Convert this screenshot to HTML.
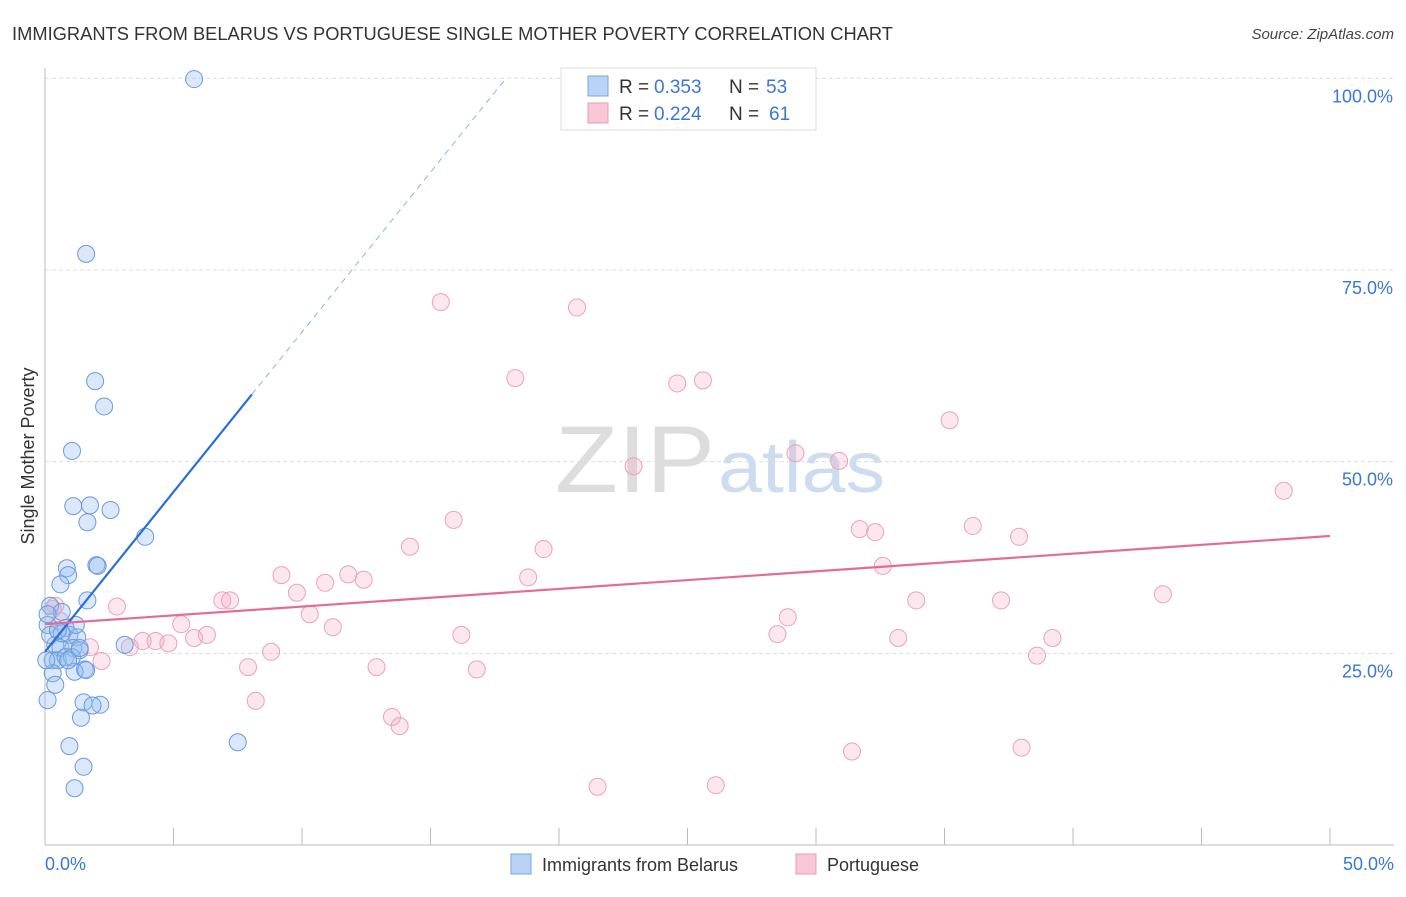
<!DOCTYPE html>
<html><head><meta charset="utf-8"><style>
body{margin:0;background:#fff;font-family:"Liberation Sans",sans-serif;}
svg text{font-family:"Liberation Sans",sans-serif;}
</style></head><body>
<svg id="chart" width="1406" height="892" xmlns="http://www.w3.org/2000/svg">
<text x="12" y="40" font-size="18" fill="#333" textLength="881" lengthAdjust="spacingAndGlyphs">IMMIGRANTS FROM BELARUS VS PORTUGUESE SINGLE MOTHER POVERTY CORRELATION CHART</text>
<text x="1394" y="39" font-size="15" fill="#444" font-style="italic" text-anchor="end">Source: ZipAtlas.com</text>
<text x="555" y="492" font-size="95" fill="#ddd" textLength="160" lengthAdjust="spacingAndGlyphs" font-family="Liberation Serif">ZIP</text>
<text x="718" y="492" font-size="72" fill="#cddcf0" textLength="167" lengthAdjust="spacingAndGlyphs">atlas</text>
<g id="grid"></g>
<line x1="45" y1="68" x2="45" y2="845" stroke="#bbb"/>
<line x1="45" y1="845" x2="1394" y2="845" stroke="#bbb"/>
<text x="34" y="456" font-size="18" fill="#333" text-anchor="middle" transform="rotate(-90 34 456)">Single Mother Poverty</text>
<text x="45" y="870" font-size="18" fill="#3a78d4">0.0%</text>
<text x="1394" y="870" font-size="18" fill="#3a78d4" text-anchor="end">50.0%</text>
<g id="pts"></g>
<g id="lines"></g>
<g>
<rect x="561" y="68" width="255" height="62" fill="#fff" stroke="#ddd"/>
<rect x="588" y="76" width="20" height="20" fill="#b8d3f5" stroke="#7aa6e0"/>
<rect x="588" y="103" width="20" height="20" fill="#f8c6d6" stroke="#e89ab4"/>
<text x="619" y="93" font-size="19" fill="#333">R =</text>
<text x="654" y="93" font-size="19" fill="#3a78d4">0.353</text>
<text x="729" y="93" font-size="19" fill="#333">N =</text>
<text x="766" y="93" font-size="19" fill="#3a78d4">53</text>
<text x="619" y="120" font-size="19" fill="#333">R =</text>
<text x="654" y="120" font-size="19" fill="#3a78d4">0.224</text>
<text x="729" y="120" font-size="19" fill="#333">N =</text>
<text x="769" y="120" font-size="19" fill="#3a78d4">61</text>
</g>
<g>
<rect x="511" y="854" width="20" height="20" fill="#b8d3f5" stroke="#7aa6e0"/>
<text x="542" y="871" font-size="18" fill="#333">Immigrants from Belarus</text>
<rect x="796" y="854" width="20" height="20" fill="#f8c6d6" stroke="#e89ab4"/>
<text x="827" y="871" font-size="18" fill="#333">Portuguese</text>
</g>
</svg>
<script>
const yTicks=[25,50,75,100];
const xTicks=[5,10,15,20,25,30,35,40,45,50];
const blueX=[5.8,1.6,1.95,2.3,1.05,1.1,1.75,1.65,2.55,3.9,0.85,0.9,2.0,2.05,0.6,1.65,0.2,0.65,0.1,0.8,0.95,1.25,0.4,0.6,1.1,1.35,0.3,0.5,0.8,1.05,3.1,1.55,1.15,0.3,0.4,1.6,2.15,1.5,1.85,1.4,0.95,1.5,1.15,7.5,0.1,0.2,0.65,0.9,0.05,0.1,0.5,1.2,1.35];
const blueY=[99.9,77.1,60.5,57.2,51.4,44.2,44.3,42.1,43.7,40.2,36.1,35.2,36.5,36.4,34.0,31.9,31.2,30.4,28.7,28.3,27.4,27.1,26.1,25.7,25.7,25.4,24.1,24.1,24.5,24.5,26.1,22.9,22.6,22.4,20.9,22.8,18.3,18.6,18.2,16.6,12.9,10.2,7.4,13.4,30.1,27.4,27.6,24.1,24.1,18.9,28.0,28.7,25.7];
const pinkX=[15.4,20.7,18.3,24.6,25.6,35.2,22.9,29.2,30.9,48.2,15.9,14.2,19.4,31.7,32.3,36.1,37.9,32.6,9.2,10.9,11.8,12.4,18.8,9.8,6.9,7.2,33.9,37.2,43.5,2.8,10.3,28.9,5.3,6.3,11.2,16.2,28.5,5.8,3.8,4.3,4.8,1.75,3.3,33.2,39.2,8.8,2.2,7.9,12.9,16.8,38.6,8.2,13.5,13.8,31.4,38.0,21.5,26.1,0.3,0.6,0.4];
const pinkY=[70.8,70.1,60.9,60.2,60.6,55.4,49.4,51.1,50.1,46.2,42.4,38.9,38.6,41.2,40.8,41.6,40.2,36.4,35.2,34.2,35.3,34.6,34.9,32.9,31.9,31.9,31.9,31.9,32.7,31.1,30.1,29.7,28.8,27.4,28.4,27.4,27.5,27.0,26.6,26.6,26.3,25.8,25.8,27.0,27.0,25.2,24.0,23.2,23.2,22.9,24.7,18.8,16.7,15.5,12.2,12.7,7.6,7.8,30.8,29.2,31.2];
const X=v=>45+v/50*1285, Y=v=>845-v/100*766.7;
const NS="http://www.w3.org/2000/svg";
const g=document.getElementById('grid');
yTicks.forEach(t=>{
 const l=document.createElementNS(NS,'line');l.setAttribute('x1',45);l.setAttribute('x2',1394);l.setAttribute('y1',Y(t));l.setAttribute('y2',Y(t));l.setAttribute('stroke','#ddd');l.setAttribute('stroke-dasharray','4,3');
 
 
 g.appendChild(l);
 const tx=document.createElementNS(NS,'text');tx.setAttribute('x',1393);tx.setAttribute('y',Y(t)+24);tx.setAttribute('font-size','18');tx.setAttribute('fill','#3a78d4');tx.setAttribute('text-anchor','end');tx.textContent=t.toFixed(1)+'%';
 
 
 g.appendChild(tx);
});
xTicks.forEach(t=>{
 const l=document.createElementNS(NS,'line');l.setAttribute('x1',X(t));l.setAttribute('x2',X(t));l.setAttribute('y1',828);l.setAttribute('y2',845);l.setAttribute('stroke','#bbb');
 
 
 g.appendChild(l);
});
const p=document.getElementById('pts');
function dot(x,y,f,s,n){const c=document.createElementNS(NS,'circle');c.setAttribute('cx',X(x));c.setAttribute('cy',Y(y));c.setAttribute('r',8.5);c.setAttribute('fill',f);c.setAttribute('stroke',s);c.setAttribute('stroke-width','1');
 
 
 p.appendChild(c);}
pinkX.forEach((x,i)=>dot(x,pinkY[i],'rgba(244,170,195,0.28)','#eaa2bb','portuguese-point'));
blueX.forEach((x,i)=>dot(x,blueY[i],'rgba(150,190,240,0.35)','#6b9ade','belarus-point'));
const L=document.getElementById('lines');
function line(x1,y1,x2,y2,c,w,d,n){const l=document.createElementNS(NS,'line');l.setAttribute('x1',X(x1));l.setAttribute('y1',Y(y1));l.setAttribute('x2',X(x2));l.setAttribute('y2',Y(y2));l.setAttribute('stroke',c);l.setAttribute('stroke-width',w);if(d)l.setAttribute('stroke-dasharray',d);
 
 
 L.appendChild(l);}
const bA=25.2,bB=4.17, pA=28.8,pB=0.23;
line(0,bA,8.05,bA+bB*8.05,'#2a6fd6',2.2,null,'belarus-trendline');
line(8.05,bA+bB*8.05,(100-bA)/bB,100,'#8fb2e6',1,'6,5','belarus-trendline-extension');
line(0,pA,50,pA+pB*50,'#e56b96',2.2,null,'portuguese-trendline');
</script>
</body></html>
